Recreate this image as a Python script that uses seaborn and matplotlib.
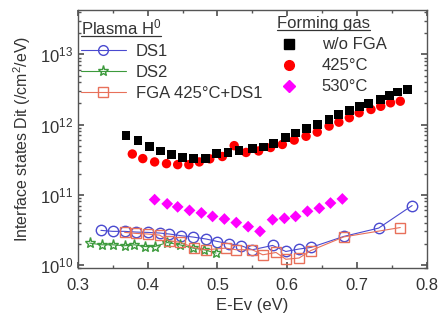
import matplotlib
matplotlib.use("Agg")

import numpy as np
import pandas as pd
import matplotlib.pyplot as plt
import seaborn as sns
from matplotlib.lines import Line2D
from matplotlib.ticker import LogLocator, MultipleLocator, NullFormatter

# ---------------------------------------------------------------
# data
# ---------------------------------------------------------------

# forming gas, no plasma
wofga_x = [0.369, 0.386, 0.403, 0.418, 0.434, 0.450, 0.466, 0.483, 0.499, 0.515,
           0.531, 0.550, 0.566, 0.580, 0.597, 0.612, 0.628, 0.643, 0.660, 0.674,
           0.689, 0.703, 0.717, 0.734, 0.746, 0.758, 0.772]
wofga_y = [7.0e11, 5.9e11, 4.9e11, 4.2e11, 3.7e11, 3.4e11, 3.3e11, 3.3e11, 3.9e11, 4.0e11,
           4.3e11, 4.5e11, 4.8e11, 5.4e11, 6.5e11, 7.6e11, 8.7e11, 1.0e12, 1.18e12, 1.39e12,
           1.6e12, 1.79e12, 2.0e12, 2.27e12, 2.6e12, 2.9e12, 3.16e12]

fga425_x = [0.378, 0.393, 0.410, 0.427, 0.443, 0.459, 0.474, 0.489, 0.507, 0.524,
            0.541, 0.559, 0.576, 0.593, 0.610, 0.627, 0.643, 0.660, 0.674, 0.689,
            0.703, 0.720, 0.734, 0.748, 0.762]
fga425_y = [3.8e11, 3.27e11, 2.93e11, 2.77e11, 2.68e11, 2.68e11, 2.93e11, 3.24e11, 3.5e11, 5.0e11,
            4.0e11, 4.2e11, 4.7e11, 5.2e11, 6.0e11, 6.8e11, 7.8e11, 9.5e11, 1.08e12, 1.25e12,
            1.47e12, 1.64e12, 1.82e12, 2.04e12, 2.15e12]

fga530_x = [0.410, 0.428, 0.443, 0.460, 0.477, 0.493, 0.510, 0.527, 0.544, 0.561,
            0.579, 0.596, 0.612, 0.629, 0.646, 0.662, 0.679]
fga530_y = [8.5e10, 7.4e10, 6.7e10, 5.97e10, 5.5e10, 4.9e10, 4.5e10, 4.0e10, 3.5e10, 3.0e10,
            4.4e10, 4.6e10, 4.9e10, 5.8e10, 6.4e10, 7.6e10, 8.7e10]

# plasma H0
ds1_x = [0.333, 0.350, 0.367, 0.384, 0.400, 0.417, 0.431, 0.448, 0.465, 0.484,
         0.500, 0.517, 0.534, 0.550, 0.579, 0.598, 0.617, 0.634, 0.681, 0.731, 0.779]
ds1_y = [3.1e10, 3.0e10, 3.0e10, 2.93e10, 2.9e10, 2.84e10, 2.75e10, 2.6e10, 2.49e10, 2.33e10,
         2.15e10, 2.0e10, 1.87e10, 1.64e10, 1.89e10, 1.55e10, 1.68e10, 1.77e10, 2.54e10, 3.34e10, 7.0e10]

ds2_x = [0.317, 0.334, 0.350, 0.367, 0.381, 0.396, 0.410, 0.428, 0.446, 0.465, 0.481, 0.498]
ds2_y = [2.04e10, 1.93e10, 1.93e10, 1.87e10, 1.93e10, 1.82e10, 1.82e10, 2.08e10, 1.93e10, 1.73e10,
         1.64e10, 1.47e10]

fgads1_x = [0.367, 0.384, 0.400, 0.417, 0.431, 0.446, 0.467, 0.484, 0.512, 0.527,
            0.550, 0.565, 0.584, 0.598, 0.617, 0.634, 0.681, 0.762]
fgads1_y = [2.9e10, 2.8e10, 2.75e10, 2.65e10, 2.2e10, 2.1e10, 1.75e10, 1.64e10, 1.73e10, 1.64e10,
            1.64e10, 1.39e10, 1.5e10, 1.2e10, 1.25e10, 1.6e10, 2.5e10, 3.4e10]

# ---------------------------------------------------------------
# style
# ---------------------------------------------------------------

sns.set_theme(style="ticks")
plt.rcParams["font.family"] = ["Liberation Sans", "DejaVu Sans"]
plt.rcParams["mathtext.fontset"] = "custom"
plt.rcParams["mathtext.rm"] = "Liberation Sans"
plt.rcParams["mathtext.it"] = "Liberation Sans:italic"
plt.rcParams["axes.edgecolor"] = "#555555"
plt.rcParams["axes.linewidth"] = 1.0

TXT = "#333333"
C_DS1 = "#4a4ad0"
C_DS2 = "#3c9a3c"
C_FGADS1 = "#e8705a"

fig = plt.figure(figsize=(4.4, 3.21), dpi=100)
ax = fig.add_axes([0.177, 0.165, 0.793, 0.804])

# filled series (forming gas)
sns.scatterplot(x=wofga_x, y=wofga_y, marker="s", color="black", s=40,
                edgecolor="none", ax=ax, zorder=3)
sns.scatterplot(x=fga425_x, y=fga425_y, marker="o", color="#ff0000", s=46,
                edgecolor="none", ax=ax, zorder=2)
sns.scatterplot(x=fga530_x, y=fga530_y, marker="D", color="#ff00ff", s=36,
                edgecolor="none", ax=ax, zorder=3)

# open series (plasma)
open_kw = dict(sort=False, estimator=None, markerfacecolor="none",
               linewidth=0.8, markeredgewidth=1.0, ax=ax)
sns.lineplot(x=ds1_x, y=ds1_y, color=C_DS1, marker="o", markersize=7.5,
             markeredgecolor=C_DS1, **open_kw)
sns.lineplot(x=ds2_x, y=ds2_y, color=C_DS2, marker="*", markersize=8,
             markeredgecolor=C_DS2, **open_kw)
sns.lineplot(x=fgads1_x, y=fgads1_y, color=C_FGADS1, marker="s", markersize=7,
             markeredgecolor=C_FGADS1, **open_kw)

ax.set_yscale("log")
ax.set_xlim(0.3, 0.8)
ax.set_ylim(9e9, 4.3e13)
ax.xaxis.set_major_locator(MultipleLocator(0.1))
ax.xaxis.set_minor_locator(MultipleLocator(0.05))
ax.yaxis.set_major_locator(LogLocator(base=10, numticks=10))
ax.yaxis.set_minor_locator(LogLocator(base=10, subs=np.arange(2, 10), numticks=10))
ax.yaxis.set_minor_formatter(NullFormatter())

ax.tick_params(which="both", direction="in", top=True, right=True,
               colors="#555555", labelcolor=TXT, labelsize=12)
ax.tick_params(which="major", length=4)
ax.tick_params(which="minor", length=2)
ax.tick_params(axis="x", pad=7)

ax.set_xlabel("E-Ev (eV)", fontsize=12, color=TXT, labelpad=4)
ax.set_ylabel("Interface states Dit (/cm$^2$/eV)", fontsize=11.5, color=TXT, labelpad=5)

# legends
h_plasma = [
    Line2D([], [], color=C_DS1, marker="o", markerfacecolor="none", markersize=7, lw=0.8),
    Line2D([], [], color=C_DS2, marker="*", markerfacecolor="none", markersize=8, lw=0.8),
    Line2D([], [], color=C_FGADS1, marker="s", markerfacecolor="none", markersize=7, lw=0.8),
]
leg1 = ax.legend(h_plasma, ["DS1", "DS2", "FGA 425°C+DS1"], title="Plasma H$^0$",
                 loc="upper left", bbox_to_anchor=(-0.025, 1.015), frameon=False,
                 fontsize=12, title_fontsize=12, alignment="left",
                 handlelength=2.7, handletextpad=0.6, labelspacing=0.36,
                 borderaxespad=0.3, labelcolor=TXT)
leg1.get_title().set_color(TXT)
ax.add_artist(leg1)

h_gas = [
    Line2D([], [], color="black", marker="s", ls="none", markersize=6.5),
    Line2D([], [], color="#ff0000", marker="o", ls="none", markersize=7),
    Line2D([], [], color="#ff00ff", marker="D", ls="none", markersize=6),
]
leg2 = ax.legend(h_gas, ["w/o FGA", "425°C", "530°C"], title="Forming gas",
                 loc="upper right", bbox_to_anchor=(0.918, 1.02), frameon=False,
                 fontsize=12, title_fontsize=12, alignment="left",
                 handlelength=1.5, handletextpad=1.2, labelspacing=0.36,
                 borderaxespad=0.3, labelcolor=TXT)
leg2.get_title().set_color(TXT)

# underline legend titles
fig.canvas.draw()
inv = fig.transFigure.inverted()
for leg in (leg1, leg2):
    bb = leg.get_title().get_window_extent()
    (x0, y0), (x1, _) = inv.transform([(bb.x0, bb.y0), (bb.x1, bb.y1)])
    fig.add_artist(Line2D([x0, x1], [y0 + 0.004, y0 + 0.004],
                          transform=fig.transFigure, color=TXT, lw=0.9))

fig.savefig("out.png", dpi=100)
